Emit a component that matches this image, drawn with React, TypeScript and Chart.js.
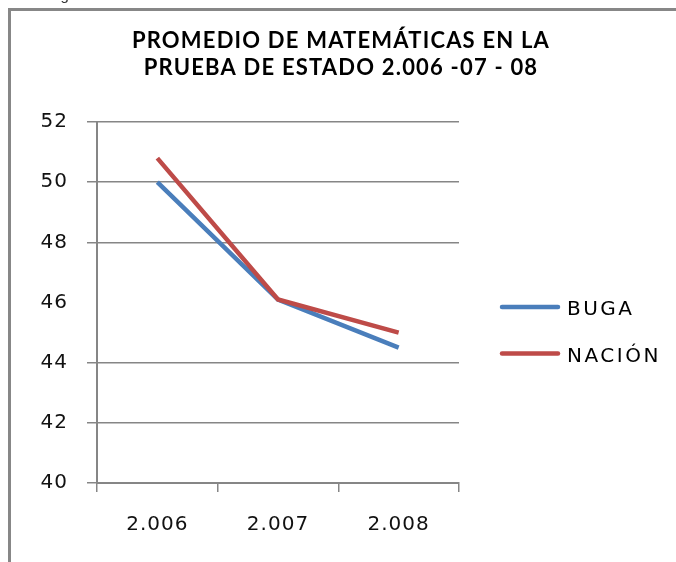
import React, { useEffect, useRef } from "react";
import { Chart, registerables } from "chart.js";

Chart.register(...registerables);

const categories = ["2.006", "2.007", "2.008"];
const bugaValues = [50.0, 46.1, 44.5];
const nacionValues = [50.8, 46.1, 45.0];
const seriesNames = ["BUGA", "NACIÓN"];
const seriesColors = ["#4A7EBB", "#BE4B48"];
const titleLines = ["PROMEDIO DE MATEMÁTICAS EN LA", "PRUEBA DE ESTADO 2.006 -07 - 08"];
const yMin = 40;
const yMax = 52;
const yStep = 2;
const hiddenGridValues = [46];

const GRID = "#868686";
const TICK_FONT = { family: "'DejaVu Sans', sans-serif", size: 20 };

const overlayPlugin = {
  id: "overlay",
  beforeUpdate(chart: any) {
    chart.ctx.letterSpacing = "1px";
  },
  beforeDraw(chart: any) {
    const ctx = chart.ctx as CanvasRenderingContext2D;
    ctx.save();
    ctx.fillStyle = "#fff";
    ctx.fillRect(0, 0, chart.width, chart.height);
    ctx.fillStyle = "#878787";
    ctx.fillRect(8, 8, chart.width - 8, 3);
    ctx.fillRect(8, 8, 3, chart.height - 8);
    ctx.restore();
    (ctx as any).letterSpacing = "1px";
  },
  afterDraw(chart: any) {
    const ctx = chart.ctx as CanvasRenderingContext2D;
    // title
    ctx.save();
    (ctx as any).letterSpacing = "1.2px";
    ctx.fillStyle = "#000";
    ctx.font = "bold 22px Lato";
    ctx.textAlign = "center";
    ctx.textBaseline = "alphabetic";
    ctx.fillText(titleLines[0], 341, 48);
    ctx.fillText(titleLines[1], 341, 75);
    ctx.restore();

    // legend
    ctx.save();
    const lx = 502;
    const y0 = 307;
    const step = 46.5;
    seriesNames.forEach((name, i) => {
      const y = y0 + i * step;
      ctx.strokeStyle = seriesColors[i];
      ctx.lineWidth = 4.5;
      ctx.lineCap = "round";
      ctx.beginPath();
      ctx.moveTo(lx, y);
      ctx.lineTo(lx + 56, y);
      ctx.stroke();
      (ctx as any).letterSpacing = "2.5px";
      ctx.fillStyle = "#000";
      ctx.font = "20px 'DejaVu Sans', sans-serif";
      ctx.textAlign = "left";
      ctx.textBaseline = "alphabetic";
      ctx.fillText(name, 567, y + 8);
    });
    ctx.restore();
  },
};

export default function App() {
  const canvasRef = useRef<HTMLCanvasElement | null>(null);

  useEffect(() => {
    const canvas = canvasRef.current;
    if (!canvas) return;
    const chart = new Chart(canvas, {
      type: "line",
      data: {
        labels: categories,
        datasets: [
          {
            label: seriesNames[0],
            data: bugaValues,
            borderColor: seriesColors[0],
            backgroundColor: seriesColors[0],
            borderWidth: 4.5,
            pointRadius: 0,
            tension: 0,
            order: 1,
          },
          {
            label: seriesNames[1],
            data: nacionValues,
            borderColor: seriesColors[1],
            backgroundColor: seriesColors[1],
            borderWidth: 4.5,
            pointRadius: 0,
            tension: 0,
            order: 0,
          },
        ],
      },
      options: {
        animation: false,
        responsive: false,
        maintainAspectRatio: false,
        layout: { padding: { top: 122, right: 217, bottom: 0, left: 0 } },
        plugins: {
          legend: { display: false },
          title: { display: false },
          tooltip: { enabled: false },
        },
        scales: {
          x: {
            type: "category",
            offset: true,
            grid: {
              display: true,
              drawOnChartArea: false,
              drawTicks: true,
              tickLength: 9,
              color: GRID,
              lineWidth: 1.5,
              offset: true,
            },
            border: { display: true, color: GRID, width: 2 },
            ticks: { font: TICK_FONT, color: "#111", padding: 21, maxRotation: 0 },
            afterFit(scale: any) {
              scale.height = 79;
            },
          },
          y: {
            min: yMin,
            max: yMax,
            ticks: { stepSize: yStep, font: TICK_FONT, color: "#111", padding: 19 },
            grid: {
              color: (c: any) =>
                c.tick && hiddenGridValues.includes(c.tick.value) ? "rgba(0,0,0,0)" : GRID,
              lineWidth: 1.5,
              tickLength: 10,
            },
            border: { display: true, color: GRID, width: 2 },
            afterFit(scale: any) {
              scale.width = 97;
            },
          },
        },
      },
      plugins: [overlayPlugin],
    });
    return () => chart.destroy();
  }, []);

  return (
    <div
      style={{
        position: "fixed",
        left: 0,
        top: 0,
        width: 676,
        height: 562,
        overflow: "hidden",
        background: "#fff",
      }}
    >
      <canvas
        ref={canvasRef}
        width={676}
        height={562}
        style={{ position: "absolute", left: 0, top: 0, width: 676, height: 562 }}
      />
      <span
        style={{
          position: "absolute",
          left: 48,
          top: -14,
          fontFamily: "'Liberation Sans', sans-serif",
          fontSize: 15,
          color: "#333",
          whiteSpace: "nowrap",
        }}
      >
        Figura 3
      </span>
    </div>
  );
}
